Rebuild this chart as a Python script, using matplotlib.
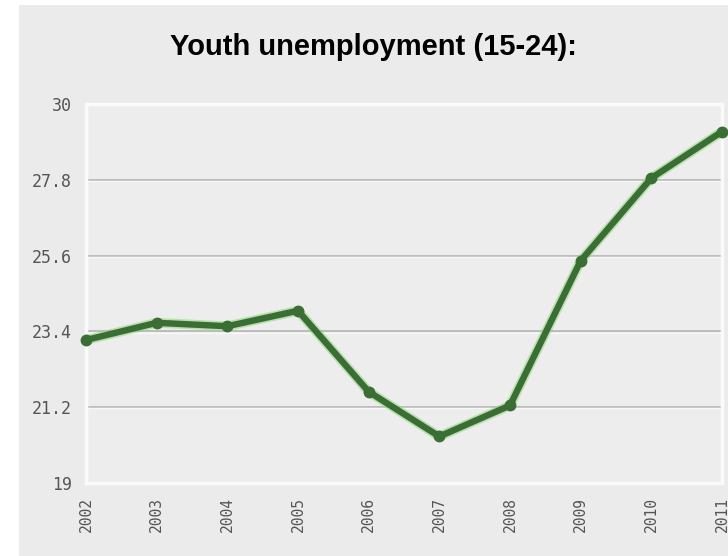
import matplotlib.pyplot as plt
from matplotlib.patches import Rectangle

years = ['2002', '2003', '2004', '2005', '2006', '2007', '2008', '2009', '2010', '2011']
rate = [23.15, 23.65, 23.55, 24.0, 21.65, 20.35, 21.25, 25.45, 27.85, 29.2]
yticks = [19, 21.2, 23.4, 25.6, 27.8, 30]
ytick_labels = ['19', '21.2', '23.4', '25.6', '27.8', '30']

fig = plt.figure(figsize=(7.28, 5.56), dpi=100)
fig.patch.set_facecolor('white')
# grey panel behind everything
fig.patches.append(Rectangle((19 / 728, 0), 1 - 19 / 728, 1 - 5 / 556,
                             transform=fig.transFigure, facecolor='#ebebeb',
                             edgecolor='none', zorder=-10))

ax = fig.add_axes([86 / 728, 1 - 483 / 556, (722 - 86) / 728, (483 - 104) / 556])
ax.set_zorder(1)
ax.set_facecolor('#ededed')

x = list(range(len(years)))
# soft glow under the line
ax.plot(x, rate, color='#8fd67a', linewidth=7, alpha=0.55, solid_capstyle='round', zorder=3)
ax.plot(x, rate, color='#3b6e35', linewidth=4.6, marker='o', markersize=7.5,
        solid_joinstyle='round', solid_capstyle='round', zorder=4, clip_on=False)

ax.set_xlim(0, len(years) - 1)
ax.set_ylim(19, 30)
ax.set_xticks(x)
ax.set_xticklabels(years, rotation=90, family='DejaVu Sans Mono', fontsize=10.5, color='#555555')
ax.set_yticks(yticks)
ax.set_yticklabels(ytick_labels, family='DejaVu Sans Mono', fontsize=12, color='#555555')
ax.tick_params(axis='both', length=0)
ax.tick_params(axis='y', pad=10)
ax.tick_params(axis='x', pad=10)

for v in yticks[1:-1]:
    ax.axhline(v, color='#b4b4b4', linewidth=1.2, zorder=1)
    ax.axhline(v - 0.035, color='#f8f8f8', linewidth=1.0, zorder=1)

for s in ax.spines.values():
    s.set_color('#fafafa')
    s.set_linewidth(2.5)

fig.text(373 / 728, 1 - 47 / 556, 'Youth unemployment (15-24):', ha='center', va='center',
         family='Liberation Sans', fontweight='bold', fontsize=21, color='black')

fig.savefig('out.png', dpi=100)
